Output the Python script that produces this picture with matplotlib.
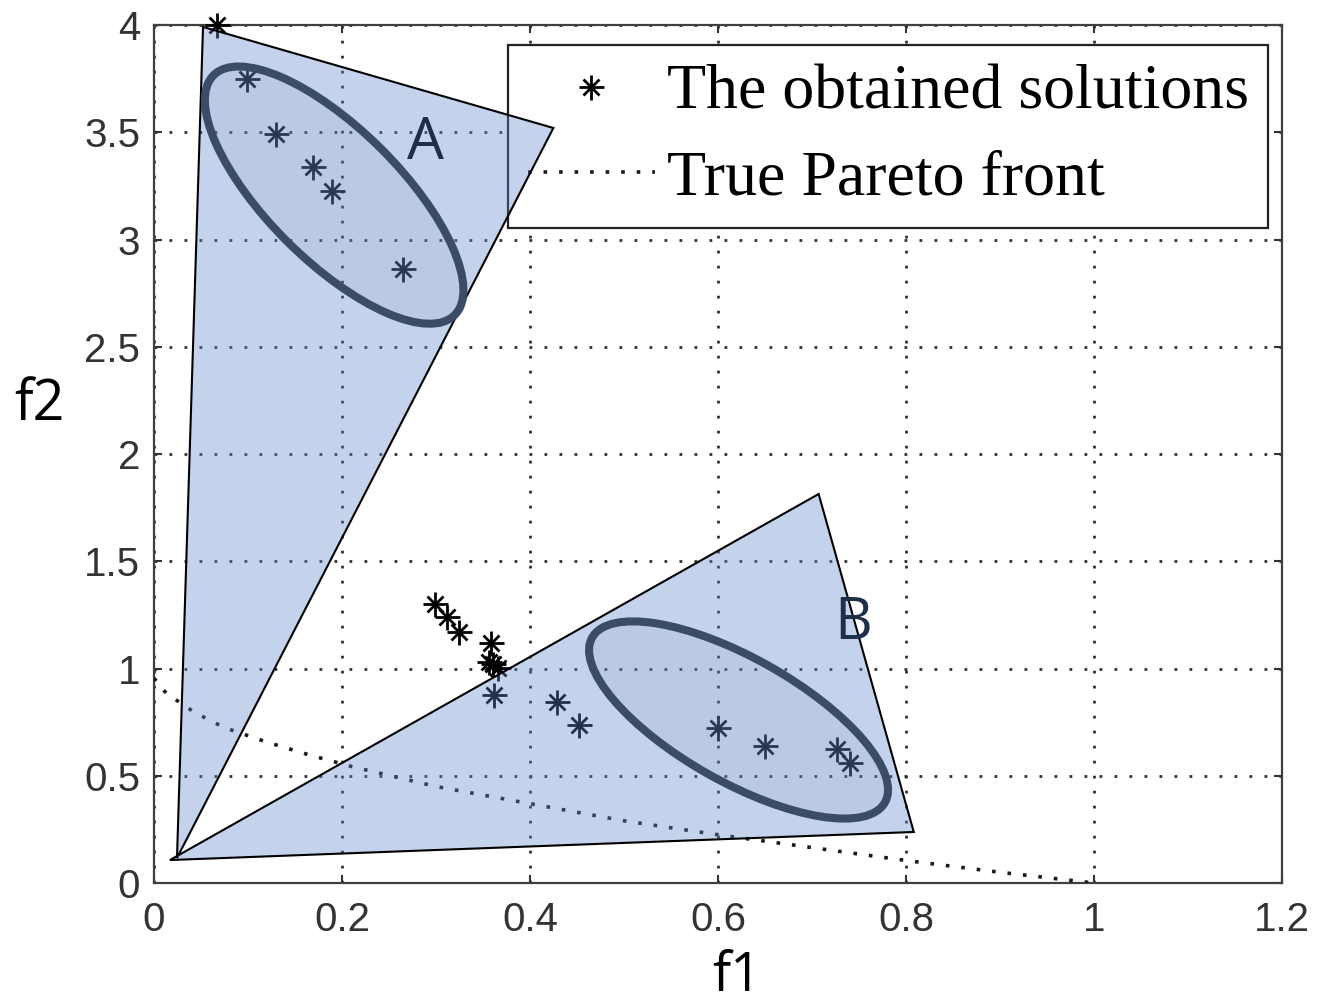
import matplotlib
matplotlib.use("Agg")
import matplotlib.pyplot as plt
from matplotlib.patches import Polygon, Ellipse
from matplotlib.transforms import ScaledTranslation
from matplotlib.legend_handler import HandlerTuple
from matplotlib.ticker import FormatStrFormatter

# obtained solutions (f1, f2)
sol_f1 = [0.067, 0.099, 0.130, 0.169, 0.189, 0.265, 0.299, 0.312, 0.325,
          0.359, 0.356, 0.361, 0.366, 0.362, 0.429, 0.452, 0.600, 0.650,
          0.727, 0.740]
sol_f2 = [4.000, 3.749, 3.492, 3.339, 3.227, 2.864, 1.299, 1.239, 1.169,
          1.118, 1.029, 1.020, 1.001, 0.875, 0.843, 0.736, 0.722, 0.638,
          0.624, 0.559]

# true Pareto front
front_f1 = [0.0, 0.013, 0.027, 0.043, 0.074, 0.12, 0.166, 0.213, 0.3, 0.4,
            0.5, 0.6, 0.7, 0.8, 0.9, 1.0]
front_f2 = [0.955, 0.885, 0.843, 0.796, 0.726, 0.657, 0.596, 0.54, 0.45,
            0.37, 0.29, 0.225, 0.165, 0.105, 0.05, 0.0]

xticks = [0, 0.2, 0.4, 0.6, 0.8, 1.0, 1.2]
yticks = [0, 0.5, 1, 1.5, 2, 2.5, 3, 3.5, 4]

# highlighted regions: triangles, ellipses (center, w, h in px, angle), labels
tri_a = [(0.0245, 0.1166), (0.0522, 3.991), (0.4249, 3.520)]
tri_b = [(0.017, 0.107), (0.7071, 1.8135), (0.8083, 0.2378)]
ell_a = ((0.1917, 3.207), 340, 132, -44.8)
ell_b = ((0.6219, 0.760), 336, 124, -29.4)
region_labels = [("A", 0.2886, 3.445), ("B", 0.7433, 1.207)]

fig = plt.figure(figsize=(13.26, 10.05), dpi=100)
ax = fig.add_axes([0.1161, 0.1214, 0.8507, 0.8537])

p1, = ax.plot(sol_f1, sol_f2, ls="none", marker="+", ms=18, mew=2.0,
              color="black", zorder=3, clip_on=False)
p2, = ax.plot(sol_f1, sol_f2, ls="none", marker="x", ms=11, mew=2.0,
              color="black", zorder=3, clip_on=False)
fr, = ax.plot(front_f1, front_f2, color="#1a1a1a", lw=2.6,
              ls=(0, (1, 3.3)), zorder=3)

ax.set_xlim(0, 1.2)
ax.set_ylim(0, 4)
ax.set_xticks(xticks)
ax.set_yticks(yticks)
ax.xaxis.set_major_formatter(FormatStrFormatter("%g"))
ax.yaxis.set_major_formatter(FormatStrFormatter("%g"))
ax.grid(True, color="#303030", lw=2.0, ls=(0, (1, 4.4)))
ax.set_axisbelow(True)
ax.tick_params(direction="in", length=6, width=1.5, top=True, right=True,
               colors="#333333", labelsize=29)
ax.tick_params(axis="x", pad=13)
ax.tick_params(axis="y", pad=10)
for lab in ax.get_xticklabels() + ax.get_yticklabels():
    lab.set_fontfamily("Liberation Sans")
for sp in ax.spines.values():
    sp.set_color("#404040")
    sp.set_linewidth(1.6)

leg = ax.legend([(p1, p2), fr], ["The obtained solutions", "True Pareto front"],
                handler_map={tuple: HandlerTuple(ndivide=1)},
                loc="upper right", bbox_to_anchor=(0.9876, 0.9767),
                borderaxespad=0, prop={"family": "Liberation Serif", "size": 46},
                frameon=True, fancybox=False, edgecolor="#222222",
                borderpad=0.3, labelspacing=0.42, handlelength=2.0,
                handletextpad=0.18, framealpha=1)
leg.get_frame().set_linewidth(1.6)
leg.set_zorder(5)

for tri in (tri_a, tri_b):
    ax.add_patch(Polygon(tri, closed=True, facecolor="#5f87cb", alpha=0.37,
                         edgecolor="none", zorder=6, clip_on=False))
    ax.add_patch(Polygon(tri, closed=True, facecolor="none",
                         edgecolor="black", lw=1.5, zorder=7, clip_on=False))

for (cx, cy), w, h, ang in (ell_a, ell_b):
    tr = fig.dpi_scale_trans + ScaledTranslation(cx, cy, ax.transData)
    ax.add_patch(Ellipse((0, 0), w / 100, h / 100, angle=ang, transform=tr,
                         facecolor="#6f7f95", alpha=0.1, edgecolor="none",
                         zorder=7))
    ax.add_patch(Ellipse((0, 0), w / 100, h / 100, angle=ang, transform=tr,
                         facecolor="none", edgecolor="#3b4d66", lw=5.8,
                         zorder=8))

for txt, x, y in region_labels:
    ax.text(x, y, txt, fontsize=42, family="Open Sans", color="#1f2f4a",
            ha="center", va="center", zorder=9)

fig.text(0.556, 0.001, "f1", fontsize=39, family="Open Sans", ha="center",
         va="bottom")
fig.text(0.0294, 0.582, "f2", fontsize=40, family="Open Sans", ha="center",
         va="baseline")

fig.savefig("out.png", dpi=100)
